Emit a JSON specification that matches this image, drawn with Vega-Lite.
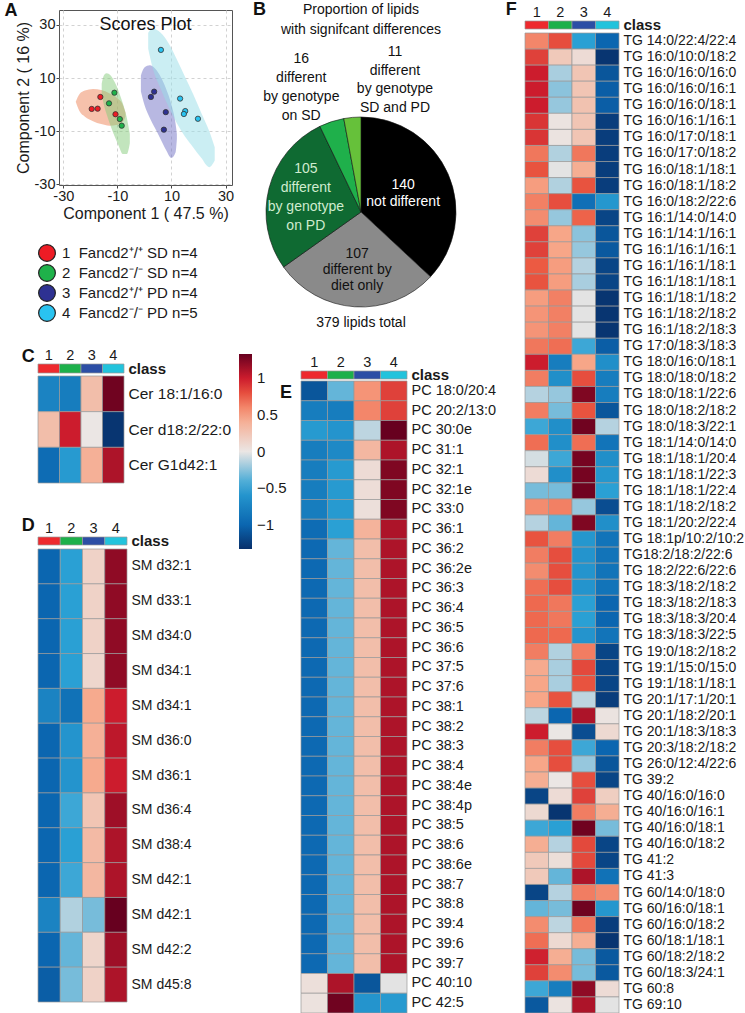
{
"$schema":"https://vega.github.io/schema/vega-lite/v6.json",
"background":"white",
"padding":{"left":3,"top":0,"right":0,"bottom":0},
"config":{
 "font":"Liberation Sans",
 "view":{"stroke":null},
 "axis":{"labelColor":"#1a1a1a","titleColor":"#1a1a1a","labelFont":"Liberation Sans","titleFont":"Liberation Sans"},
 "legend":{"labelFont":"Liberation Sans","labelColor":"#1a1a1a"},
 "title":{"font":"Liberation Sans","color":"#111111","fontWeight":"bold"},
 "text":{"font":"Liberation Sans"}
},
"datasets":{"cls":[{"g":1,"k":"class"},{"g":2,"k":"class"},{"g":3,"k":"class"},{"g":4,"k":"class"}],"none":[]},
"resolve":{"scale":{"color":"independent","fill":"independent"}},
"spacing":8,
"hconcat":[
{"spacing":3,"resolve":{"scale":{"color":"independent","fill":"independent"}},"hconcat":[
 {"spacing":0,"resolve":{"scale":{"color":"independent","fill":"independent"}},"vconcat":[
  {"width":1,"height":1,"data":{"name":"none"},"mark":"point"},
  {"spacing":33,"resolve":{"scale":{"color":"independent","fill":"independent"}},"vconcat":[
   {"spacing":22,"resolve":{"scale":{"color":"independent","fill":"independent"}},"vconcat":[
    {"spacing":0,"resolve":{"scale":{"color":"independent","fill":"independent"}},"hconcat":[
     {"width":1,"height":1,"data":{"name":"none"},"mark":"point"},
     {"title":{"text":"A","anchor":"start","frame":"bounds","fontSize":18,"dx":-10,"dy":14},
      "resolve":{"scale":{"color":"independent","fill":"independent"}},
      "vconcat":[
       {"width":173,"height":175,
        "title":{"text":"Scores Plot","fontSize":18,"fontWeight":"normal","dy":28},
        "view":{"stroke":"#555555","strokeWidth":1},
        "resolve":{"scale":{"color":"independent","fill":"independent"}},
        "layer":[
         {"data":{"values":[
           {"e":1,"x":-25.4,"lo":1.1,"hi":1.1},{"e":1,"x":-24,"lo":-2.5,"hi":4.0},{"e":1,"x":-22,"lo":-4.5,"hi":5.3},{"e":1,"x":-19,"lo":-6.2,"hi":5.9},{"e":1,"x":-16,"lo":-7.3,"hi":5.5},{"e":1,"x":-13,"lo":-7.9,"hi":4.3},{"e":1,"x":-10,"lo":-7.5,"hi":2.4},{"e":1,"x":-8,"lo":-6.4,"hi":0},{"e":1,"x":-7,"lo":-4.5,"hi":-3.0},
           {"e":2,"x":-15.8,"lo":4,"hi":8},{"e":2,"x":-15,"lo":0,"hi":11},{"e":2,"x":-14,"lo":-3.5,"hi":11.8},{"e":2,"x":-12.5,"lo":-8,"hi":11},{"e":2,"x":-11,"lo":-12,"hi":8.5},{"e":2,"x":-9.5,"lo":-15.5,"hi":5},{"e":2,"x":-8,"lo":-18.5,"hi":0.5},{"e":2,"x":-6.5,"lo":-18.5,"hi":-5},{"e":2,"x":-5.4,"lo":-14.5,"hi":-11},
           {"e":3,"x":-1.3,"lo":5,"hi":11},{"e":3,"x":0,"lo":0,"hi":14},{"e":3,"x":2,"lo":-5,"hi":14.8},{"e":3,"x":4,"lo":-9,"hi":13.5},{"e":3,"x":6,"lo":-13,"hi":10.5},{"e":3,"x":8,"lo":-17,"hi":6},{"e":3,"x":10,"lo":-20,"hi":0},{"e":3,"x":11.5,"lo":-18,"hi":-7},{"e":3,"x":12,"lo":-13,"hi":-11},
           {"e":4,"x":1.4,"lo":21,"hi":27},{"e":4,"x":3,"lo":14,"hi":28.6},{"e":4,"x":6,"lo":6,"hi":27},{"e":4,"x":9,"lo":-1,"hi":23},{"e":4,"x":12,"lo":-7,"hi":17},{"e":4,"x":15,"lo":-12,"hi":10.5},{"e":4,"x":18,"lo":-16,"hi":4},{"e":4,"x":21,"lo":-20,"hi":-3},{"e":4,"x":24,"lo":-23.5,"hi":-10},{"e":4,"x":26,"lo":-21,"hi":-16}
          ]},
          "mark":{"type":"area","interpolate":"monotone","opacity":0.5},
          "encoding":{
           "x":{"field":"x","type":"quantitative","scale":{"domain":[-31.6,32.4],"nice":false,"zero":false},
                "axis":{"title":"Component 1 ( 47.5 %)","values":[-30,-20,-10,0,10,20,30],"labelExpr":"replace(datum.label,'\u2212','-')","grid":true,"gridDash":[3,3],"gridColor":"#d2d2d2","domain":false,"tickSize":3,"tickColor":"#444444","labelFontSize":14.5,"titleFontSize":16,"titleFontWeight":"normal","labelPadding":1,"titlePadding":3,"labelFlush":false}},
           "y":{"field":"hi","type":"quantitative","scale":{"domain":[-30.2,35.6],"nice":false,"zero":false},
                "axis":{"title":"Component 2 ( 16 %)","values":[-30,-20,-10,0,10,20,30],"labelExpr":"replace(datum.label,'\u2212','-')","grid":true,"gridDash":[3,3],"gridColor":"#d2d2d2","domain":false,"tickSize":3,"tickColor":"#444444","labelFontSize":14.5,"titleFontSize":16,"titleFontWeight":"normal","labelPadding":1,"titlePadding":3,"labelFlush":false}},
           "y2":{"field":"lo"},
           "fill":{"field":"e","type":"nominal","scale":{"range":["#ed8357","#85cb7b","#7171c5","#97dde7"]},"legend":null}
          }},
         {"data":{"values":[
           {"x":-19.5,"y":-1.6,"grp":"1\u00a0\u00a0Fancd2\u207a/\u207a SD n=4"},{"x":-17.3,"y":-1.5,"grp":"1\u00a0\u00a0Fancd2\u207a/\u207a SD n=4"},{"x":-16.3,"y":2.9,"grp":"1\u00a0\u00a0Fancd2\u207a/\u207a SD n=4"},{"x":-10.7,"y":-3.6,"grp":"1\u00a0\u00a0Fancd2\u207a/\u207a SD n=4"},
           {"x":-11.1,"y":4.5,"grp":"2\u00a0\u00a0Fancd2\u207b/\u207b SD n=4"},{"x":-13.1,"y":0.5,"grp":"2\u00a0\u00a0Fancd2\u207b/\u207b SD n=4"},{"x":-9.1,"y":-5.4,"grp":"2\u00a0\u00a0Fancd2\u207b/\u207b SD n=4"},{"x":-8.4,"y":-7.9,"grp":"2\u00a0\u00a0Fancd2\u207b/\u207b SD n=4"},
           {"x":2.4,"y":2.9,"grp":"3\u00a0\u00a0Fancd2\u207a/\u207a PD n=4"},{"x":3.6,"y":4.9,"grp":"3\u00a0\u00a0Fancd2\u207a/\u207a PD n=4"},{"x":7.9,"y":-2.8,"grp":"3\u00a0\u00a0Fancd2\u207a/\u207a PD n=4"},{"x":7.2,"y":-9.4,"grp":"3\u00a0\u00a0Fancd2\u207a/\u207a PD n=4"},
           {"x":6.1,"y":20.6,"grp":"4\u00a0\u00a0Fancd2\u207b/\u207b PD n=5"},{"x":13.2,"y":2.3,"grp":"4\u00a0\u00a0Fancd2\u207b/\u207b PD n=5"},{"x":15.1,"y":-2.4,"grp":"4\u00a0\u00a0Fancd2\u207b/\u207b PD n=5"},{"x":14.6,"y":-3.5,"grp":"4\u00a0\u00a0Fancd2\u207b/\u207b PD n=5"},{"x":19.8,"y":-5.3,"grp":"4\u00a0\u00a0Fancd2\u207b/\u207b PD n=5"}
          ]},
          "mark":{"type":"point","filled":true,"size":28,"stroke":"#333333","strokeWidth":0.8,"opacity":1},
          "encoding":{
           "x":{"field":"x","type":"quantitative","title":"Component 1 ( 47.5 %)"},
           "y":{"field":"y","type":"quantitative","title":"Component 2 ( 16 %)"},
           "color":{"field":"grp","type":"nominal","scale":{"range":["#ee1c25","#1fb24a","#2e3192","#29c3f0"]},
            "legend":{"orient":"none","legendX":-21,"legendY":234,"direction":"vertical","title":null,"symbolType":"circle","symbolSize":280,"symbolStrokeColor":"#222222","symbolStrokeWidth":1.2,"symbolOpacity":1,"labelFontSize":15,"rowPadding":-5,"labelOffset":6,"padding":0}}
          }}
        ]}
      ]}
    ]},
    {"spacing":17,"resolve":{"scale":{"color":"independent","fill":"independent"}},"hconcat":[
     {"width":1,"height":1,"data":{"name":"none"},"mark":"point"},
     {"title":{"text":"C","anchor":"start","frame":"bounds","fontSize":18,"dx":-16,"dy":23},
      "spacing":3,"bounds":"flush","resolve":{"scale":{"color":"independent","fill":"independent"}},
      "vconcat":[
       {"width":86,"height":9,"data":{"name":"cls"},
        "mark":{"type":"rect","stroke":"#999999","strokeWidth":0.7},
        "encoding":{
         "x":{"field":"g","type":"ordinal","axis":{"orient":"top","labelAngle":0,"labelFontSize":14.5,"ticks":false,"domain":false,"labelPadding":2,"title":null}},
         "y":{"field":"k","type":"nominal","axis":{"orient":"right","labelFontSize":15,"labelFontWeight":"bold","ticks":false,"domain":false,"labelPadding":4,"title":null}},
         "fill":{"field":"g","type":"ordinal","scale":{"domain":[1,2,3,4],"range":["#ee2a2e","#1db04b","#2c4ea5","#22c3dc"]},"legend":null}}},
       {"width":86,"height":107,
        "data":{"values":[
         {"l":"Cer 18:1/16:0","g":1,"v":-0.75},{"l":"Cer 18:1/16:0","g":2,"v":-0.8},{"l":"Cer 18:1/16:0","g":3,"v":0.3},{"l":"Cer 18:1/16:0","g":4,"v":1.3},
         {"l":"Cer d18:2/22:0","g":1,"v":0.3},{"l":"Cer d18:2/22:0","g":2,"v":1.0},{"l":"Cer d18:2/22:0","g":3,"v":0.0},{"l":"Cer d18:2/22:0","g":4,"v":-1.3},
         {"l":"Cer G1d42:1","g":1,"v":-0.95},{"l":"Cer G1d42:1","g":2,"v":-0.55},{"l":"Cer G1d42:1","g":3,"v":0.4},{"l":"Cer G1d42:1","g":4,"v":1.1}
        ]},
        "mark":{"type":"rect","stroke":"#999999","strokeWidth":0.7},
        "encoding":{
         "x":{"field":"g","type":"ordinal","axis":null},
         "y":{"field":"l","type":"nominal","sort":null,"axis":{"orient":"right","labelFontSize":15.5,"ticks":false,"domain":false,"labelPadding":4,"title":null,"labelOverlap":false}},
         "color":{"field":"v","type":"quantitative","scale":{"domain":[-1.33,-1,-0.5,0,0.5,0.75,1,1.33],"range":["#08306b","#0b66b0","#2aa0d4","#ebe6e4","#f7a384","#ec5a42","#cc1c2d","#67001f"],"interpolate":"rgb","clamp":true},"legend":null}}}
      ]}
    ]}
   ]},
   {"spacing":17,"resolve":{"scale":{"color":"independent","fill":"independent"}},"hconcat":[
    {"width":1,"height":1,"data":{"name":"none"},"mark":"point"},
    {"title":{"text":"D","anchor":"start","frame":"bounds","fontSize":18,"dx":-16,"dy":19},
     "spacing":4,"bounds":"flush","resolve":{"scale":{"color":"independent","fill":"independent"}},
     "vconcat":[
      {"width":89,"height":8,"data":{"name":"cls"},
       "mark":{"type":"rect","stroke":"#999999","strokeWidth":0.7},
       "encoding":{
        "x":{"field":"g","type":"ordinal","axis":{"orient":"top","labelAngle":0,"labelFontSize":14.5,"ticks":false,"domain":false,"labelPadding":2,"title":null}},
        "y":{"field":"k","type":"nominal","axis":{"orient":"right","labelFontSize":15,"labelFontWeight":"bold","ticks":false,"domain":false,"labelPadding":4,"title":null}},
        "fill":{"field":"g","type":"ordinal","scale":{"domain":[1,2,3,4],"range":["#ee2a2e","#1db04b","#2c4ea5","#22c3dc"]},"legend":null}}},
      {"width":89,"height":453,
       "data":{"values":[
        {"l":"SM d32:1","g":1,"v":-1.0},{"l":"SM d32:1","g":2,"v":-0.5},{"l":"SM d32:1","g":3,"v":0.15},{"l":"SM d32:1","g":4,"v":1.2},
        {"l":"SM d33:1","g":1,"v":-1.0},{"l":"SM d33:1","g":2,"v":-0.5},{"l":"SM d33:1","g":3,"v":0.15},{"l":"SM d33:1","g":4,"v":1.2},
        {"l":"SM d34:0","g":1,"v":-1.0},{"l":"SM d34:0","g":2,"v":-0.5},{"l":"SM d34:0","g":3,"v":0.15},{"l":"SM d34:0","g":4,"v":1.2},
        {"l":"SM d34:1","g":1,"v":-1.0},{"l":"SM d34:1","g":2,"v":-0.5},{"l":"SM d34:1","g":3,"v":0.12},{"l":"SM d34:1","g":4,"v":1.2},
        {"l":"SM d34:1 ","g":1,"v":-0.75},{"l":"SM d34:1 ","g":2,"v":-0.9},{"l":"SM d34:1 ","g":3,"v":0.45},{"l":"SM d34:1 ","g":4,"v":1.0},
        {"l":"SM d36:0","g":1,"v":-1.0},{"l":"SM d36:0","g":2,"v":-0.6},{"l":"SM d36:0","g":3,"v":0.4},{"l":"SM d36:0","g":4,"v":1.05},
        {"l":"SM d36:1","g":1,"v":-1.0},{"l":"SM d36:1","g":2,"v":-0.6},{"l":"SM d36:1","g":3,"v":0.45},{"l":"SM d36:1","g":4,"v":1.0},
        {"l":"SM d36:4","g":1,"v":-1.0},{"l":"SM d36:4","g":2,"v":-0.45},{"l":"SM d36:4","g":3,"v":0.25},{"l":"SM d36:4","g":4,"v":1.15},
        {"l":"SM d38:4","g":1,"v":-1.0},{"l":"SM d38:4","g":2,"v":-0.5},{"l":"SM d38:4","g":3,"v":0.33},{"l":"SM d38:4","g":4,"v":1.1},
        {"l":"SM d42:1","g":1,"v":-1.0},{"l":"SM d42:1","g":2,"v":-0.45},{"l":"SM d42:1","g":3,"v":0.35},{"l":"SM d42:1","g":4,"v":1.1},
        {"l":"SM d42:1 ","g":1,"v":-0.75},{"l":"SM d42:1 ","g":2,"v":-0.15},{"l":"SM d42:1 ","g":3,"v":-0.3},{"l":"SM d42:1 ","g":4,"v":1.33},
        {"l":"SM d42:2","g":1,"v":-1.0},{"l":"SM d42:2","g":2,"v":-0.35},{"l":"SM d42:2","g":3,"v":0.13},{"l":"SM d42:2","g":4,"v":1.15},
        {"l":"SM d45:8","g":1,"v":-1.05},{"l":"SM d45:8","g":2,"v":-0.3},{"l":"SM d45:8","g":3,"v":0.15},{"l":"SM d45:8","g":4,"v":1.1}
       ]},
       "mark":{"type":"rect","stroke":"#999999","strokeWidth":0.7},
       "encoding":{
        "x":{"field":"g","type":"ordinal","axis":null},
        "y":{"field":"l","type":"nominal","sort":null,"axis":{"orient":"right","labelFontSize":14,"ticks":false,"domain":false,"labelPadding":4,"title":null,"labelOverlap":false}},
        "color":{"field":"v","type":"quantitative","scale":{"domain":[-1.33,-1,-0.5,0,0.5,0.75,1,1.33],"range":["#08306b","#0b66b0","#2aa0d4","#ebe6e4","#f7a384","#ec5a42","#cc1c2d","#67001f"],"interpolate":"rgb","clamp":true},"legend":null}}}
     ]}
   ]}
  ]}
 ]},
 {"spacing":0,"resolve":{"scale":{"color":"independent","fill":"independent"}},"vconcat":[
  {"width":1,"height":1,"data":{"name":"none"},"mark":"point"},
  {"spacing":23,"resolve":{"scale":{"color":"independent","fill":"independent"}},"vconcat":[
   {"spacing":0,"resolve":{"scale":{"color":"independent","fill":"independent"}},"hconcat":[
    {"width":1,"height":1,"data":{"name":"none"},"mark":"point"},
    {"title":{"text":"B","anchor":"start","frame":"bounds","fontSize":18,"dx":14,"dy":20},
     "resolve":{"scale":{"color":"independent","fill":"independent"}},
     "vconcat":[
      {"title":{"text":"379 lipids total","orient":"bottom","anchor":"middle","fontSize":14,"fontWeight":"normal","offset":8},
       "resolve":{"scale":{"color":"independent","fill":"independent"}},
       "vconcat":[
        {"width":244,"height":190,
         "title":{"text":["Proportion of lipids","with signifcant differences"],"fontSize":14,"fontWeight":"normal","lineHeight":20,"offset":8},
         "data":{"values":[
          {"cat":"not different","n":140,"label":"140\nnot different"},
          {"cat":"diet only","n":107,"label":"107\ndifferent by\ndiet only"},
          {"cat":"genotype PD","n":105,"label":"105\ndifferent\nby genotype\non PD"},
          {"cat":"genotype SD","n":16,"label":"16\ndifferent\nby genotype\non SD"},
          {"cat":"genotype SD and PD","n":11,"label":"11\ndifferent\nby genotype\nSD and PD"}
         ]},
         "encoding":{"theta":{"field":"n","type":"quantitative","stack":true,"scale":{"domain":[0,379]}},"order":{"field":"n","sort":"descending"}},
         "layer":[
          {"mark":{"type":"arc","stroke":"#111111","strokeWidth":0.6},
           "encoding":{"color":{"field":"cat","type":"nominal","scale":{"domain":["not different","diet only","genotype PD","genotype SD","genotype SD and PD"],"range":["#000000","#8a8a8a","#0f6a32","#1fb04b","#66c13a"]},"legend":null}}},
          {"mark":{"type":"text","radius":46,"dy":-8.5,"fill":"#ffffff","fontSize":14,"lineBreak":"\n","lineHeight":17},
           "encoding":{"text":{"condition":{"test":"datum.n==140","field":"label","type":"nominal"},"value":""}}},
          {"mark":{"type":"text","radius":58,"dy":-16,"fill":"#111111","fontSize":14,"lineBreak":"\n","lineHeight":16},
           "encoding":{"text":{"condition":{"test":"datum.n==107","field":"label","type":"nominal"},"value":""}}},
          {"mark":{"type":"text","radius":57,"dy":-28.5,"fill":"#cfeccf","fontSize":14,"lineBreak":"\n","lineHeight":19},
           "encoding":{"text":{"condition":{"test":"datum.n==105","field":"label","type":"nominal"},"value":""}}},
          {"transform":[{"stack":"n","groupby":[],"sort":[{"field":"n","order":"descending"}],"as":["a0","a1"]},{"filter":"datum.n==16"}],
           "mark":{"type":"text","radius":138,"dy":-28.5,"fill":"#111111","fontSize":14,"lineBreak":"\n","lineHeight":19},
           "encoding":{"theta":{"field":"a0","type":"quantitative","stack":null,"scale":{"domain":[0,379]}},"text":{"field":"label","type":"nominal"}}},
          {"transform":[{"stack":"n","groupby":[],"sort":[{"field":"n","order":"descending"}],"as":["a0","a1"]},{"filter":"datum.n==11"}],
           "mark":{"type":"text","radius":131,"dx":34,"dy":-29,"fill":"#111111","fontSize":14,"lineBreak":"\n","lineHeight":18.5},
           "encoding":{"theta":{"field":"a1","type":"quantitative","stack":null,"scale":{"domain":[0,379]}},"text":{"field":"label","type":"nominal"}}}
         ]}
       ]}
     ]}
   ]},
   {"spacing":0,"resolve":{"scale":{"color":"independent","fill":"independent"}},"hconcat":[
    {"width":1,"height":1,"data":{"name":"none"},"mark":"point"},
    {"title":{"text":"E","anchor":"start","frame":"bounds","fontSize":18,"dx":41,"dy":52},
     "spacing":2,"bounds":"flush","resolve":{"scale":{"color":"independent","fill":"independent"}},
     "vconcat":[
      {"width":106,"height":8,"data":{"name":"cls"},
       "mark":{"type":"rect","stroke":"#999999","strokeWidth":0.7},
       "encoding":{
        "x":{"field":"g","type":"ordinal","axis":{"orient":"top","labelAngle":0,"labelFontSize":14.5,"ticks":false,"domain":false,"labelPadding":2,"title":null}},
        "y":{"field":"k","type":"nominal","axis":{"orient":"right","labelFontSize":15,"labelFontWeight":"bold","ticks":false,"domain":false,"labelPadding":4,"title":null}},
        "fill":{"field":"g","type":"ordinal","scale":{"domain":[1,2,3,4],"range":["#ee2a2e","#1db04b","#2c4ea5","#22c3dc"]},"legend":null}}},
      {"width":106,"height":632,
       "data":{"values":[
        {"l":"PC 18:0/20:4","g":1,"v":-1.1},{"l":"PC 18:0/20:4","g":2,"v":-0.35},{"l":"PC 18:0/20:4","g":3,"v":0.55},{"l":"PC 18:0/20:4","g":4,"v":0.85},
        {"l":"PC 20:2/13:0","g":1,"v":-0.8},{"l":"PC 20:2/13:0","g":2,"v":-0.8},{"l":"PC 20:2/13:0","g":3,"v":0.6},{"l":"PC 20:2/13:0","g":4,"v":0.85},
        {"l":"PC 30:0e","g":1,"v":-0.55},{"l":"PC 30:0e","g":2,"v":-0.6},{"l":"PC 30:0e","g":3,"v":-0.12},{"l":"PC 30:0e","g":4,"v":1.33},
        {"l":"PC 31:1","g":1,"v":-0.8},{"l":"PC 31:1","g":2,"v":-0.7},{"l":"PC 31:1","g":3,"v":0.35},{"l":"PC 31:1","g":4,"v":1.1},
        {"l":"PC 32:1","g":1,"v":-0.8},{"l":"PC 32:1","g":2,"v":-0.55},{"l":"PC 32:1","g":3,"v":0.08},{"l":"PC 32:1","g":4,"v":1.25},
        {"l":"PC 32:1e","g":1,"v":-0.8},{"l":"PC 32:1e","g":2,"v":-0.55},{"l":"PC 32:1e","g":3,"v":0.07},{"l":"PC 32:1e","g":4,"v":1.25},
        {"l":"PC 33:0","g":1,"v":-0.8},{"l":"PC 33:0","g":2,"v":-0.55},{"l":"PC 33:0","g":3,"v":0.05},{"l":"PC 33:0","g":4,"v":1.25},
        {"l":"PC 36:1","g":1,"v":-0.95},{"l":"PC 36:1","g":2,"v":-0.5},{"l":"PC 36:1","g":3,"v":0.38},{"l":"PC 36:1","g":4,"v":1.1},
        {"l":"PC 36:2","g":1,"v":-0.97},{"l":"PC 36:2","g":2,"v":-0.35},{"l":"PC 36:2","g":3,"v":0.3},{"l":"PC 36:2","g":4,"v":1.1},
        {"l":"PC 36:2e","g":1,"v":-0.97},{"l":"PC 36:2e","g":2,"v":-0.35},{"l":"PC 36:2e","g":3,"v":0.3},{"l":"PC 36:2e","g":4,"v":1.1},
        {"l":"PC 36:3","g":1,"v":-0.97},{"l":"PC 36:3","g":2,"v":-0.35},{"l":"PC 36:3","g":3,"v":0.3},{"l":"PC 36:3","g":4,"v":1.1},
        {"l":"PC 36:4","g":1,"v":-0.97},{"l":"PC 36:4","g":2,"v":-0.35},{"l":"PC 36:4","g":3,"v":0.3},{"l":"PC 36:4","g":4,"v":1.1},
        {"l":"PC 36:5","g":1,"v":-0.97},{"l":"PC 36:5","g":2,"v":-0.35},{"l":"PC 36:5","g":3,"v":0.3},{"l":"PC 36:5","g":4,"v":1.1},
        {"l":"PC 36:6","g":1,"v":-0.97},{"l":"PC 36:6","g":2,"v":-0.35},{"l":"PC 36:6","g":3,"v":0.3},{"l":"PC 36:6","g":4,"v":1.1},
        {"l":"PC 37:5","g":1,"v":-0.97},{"l":"PC 37:5","g":2,"v":-0.35},{"l":"PC 37:5","g":3,"v":0.3},{"l":"PC 37:5","g":4,"v":1.1},
        {"l":"PC 37:6","g":1,"v":-0.97},{"l":"PC 37:6","g":2,"v":-0.35},{"l":"PC 37:6","g":3,"v":0.3},{"l":"PC 37:6","g":4,"v":1.1},
        {"l":"PC 38:1","g":1,"v":-0.97},{"l":"PC 38:1","g":2,"v":-0.35},{"l":"PC 38:1","g":3,"v":0.3},{"l":"PC 38:1","g":4,"v":1.1},
        {"l":"PC 38:2","g":1,"v":-0.97},{"l":"PC 38:2","g":2,"v":-0.35},{"l":"PC 38:2","g":3,"v":0.3},{"l":"PC 38:2","g":4,"v":1.1},
        {"l":"PC 38:3","g":1,"v":-0.97},{"l":"PC 38:3","g":2,"v":-0.35},{"l":"PC 38:3","g":3,"v":0.3},{"l":"PC 38:3","g":4,"v":1.1},
        {"l":"PC 38:4","g":1,"v":-0.97},{"l":"PC 38:4","g":2,"v":-0.35},{"l":"PC 38:4","g":3,"v":0.3},{"l":"PC 38:4","g":4,"v":1.1},
        {"l":"PC 38:4e","g":1,"v":-0.97},{"l":"PC 38:4e","g":2,"v":-0.35},{"l":"PC 38:4e","g":3,"v":0.3},{"l":"PC 38:4e","g":4,"v":1.1},
        {"l":"PC 38:4p","g":1,"v":-0.97},{"l":"PC 38:4p","g":2,"v":-0.35},{"l":"PC 38:4p","g":3,"v":0.3},{"l":"PC 38:4p","g":4,"v":1.1},
        {"l":"PC 38:5","g":1,"v":-0.97},{"l":"PC 38:5","g":2,"v":-0.35},{"l":"PC 38:5","g":3,"v":0.3},{"l":"PC 38:5","g":4,"v":1.1},
        {"l":"PC 38:6","g":1,"v":-0.97},{"l":"PC 38:6","g":2,"v":-0.35},{"l":"PC 38:6","g":3,"v":0.3},{"l":"PC 38:6","g":4,"v":1.1},
        {"l":"PC 38:6e","g":1,"v":-0.97},{"l":"PC 38:6e","g":2,"v":-0.35},{"l":"PC 38:6e","g":3,"v":0.3},{"l":"PC 38:6e","g":4,"v":1.1},
        {"l":"PC 38:7","g":1,"v":-0.97},{"l":"PC 38:7","g":2,"v":-0.35},{"l":"PC 38:7","g":3,"v":0.3},{"l":"PC 38:7","g":4,"v":1.1},
        {"l":"PC 38:8","g":1,"v":-0.97},{"l":"PC 38:8","g":2,"v":-0.35},{"l":"PC 38:8","g":3,"v":0.3},{"l":"PC 38:8","g":4,"v":1.1},
        {"l":"PC 39:4","g":1,"v":-0.97},{"l":"PC 39:4","g":2,"v":-0.35},{"l":"PC 39:4","g":3,"v":0.3},{"l":"PC 39:4","g":4,"v":1.1},
        {"l":"PC 39:6","g":1,"v":-0.97},{"l":"PC 39:6","g":2,"v":-0.35},{"l":"PC 39:6","g":3,"v":0.3},{"l":"PC 39:6","g":4,"v":1.1},
        {"l":"PC 39:7","g":1,"v":-0.97},{"l":"PC 39:7","g":2,"v":-0.35},{"l":"PC 39:7","g":3,"v":0.3},{"l":"PC 39:7","g":4,"v":1.1},
        {"l":"PC 40:10","g":1,"v":0.05},{"l":"PC 40:10","g":2,"v":1.1},{"l":"PC 40:10","g":3,"v":-1.1},{"l":"PC 40:10","g":4,"v":-0.02},
        {"l":"PC 42:5","g":1,"v":0.03},{"l":"PC 42:5","g":2,"v":1.3},{"l":"PC 42:5","g":3,"v":-0.6},{"l":"PC 42:5","g":4,"v":-0.55}
       ]},
       "mark":{"type":"rect","stroke":"#999999","strokeWidth":0.7},
       "encoding":{
        "x":{"field":"g","type":"ordinal","axis":null},
        "y":{"field":"l","type":"nominal","sort":null,"axis":{"orient":"right","labelFontSize":14.5,"ticks":false,"domain":false,"labelPadding":4,"title":null,"labelOverlap":false}},
        "color":{"field":"v","type":"quantitative","scale":{"domain":[-1.33,-1,-0.5,0,0.5,0.75,1,1.33],"range":["#08306b","#0b66b0","#2aa0d4","#ebe6e4","#f7a384","#ec5a42","#cc1c2d","#67001f"],"interpolate":"rgb","clamp":true},
         "legend":{"orient":"none","legendX":-62,"legendY":-27,"direction":"vertical","gradientLength":195,"gradientThickness":13,"values":[-1,-0.5,0,0.5,1],"format":"~g","labelFontSize":15,"title":null,"gradientStrokeWidth":0,"labelOffset":5,"padding":0}}}}
     ]}
   ]}
  ]}
 ]}
]},
{"spacing":0,"resolve":{"scale":{"color":"independent","fill":"independent"}},"vconcat":[
 {"width":1,"height":1,"data":{"name":"none"},"mark":"point"},
 {"spacing":0,"resolve":{"scale":{"color":"independent","fill":"independent"}},"hconcat":[
  {"width":1,"height":1,"data":{"name":"none"},"mark":"point"},
  {"title":{"text":"F","anchor":"start","frame":"bounds","fontSize":18,"dx":-19,"dy":19},
   "spacing":4,"bounds":"flush","resolve":{"scale":{"color":"independent","fill":"independent"}},
   "vconcat":[
    {"width":94,"height":8,"data":{"name":"cls"},
     "mark":{"type":"rect","stroke":"#999999","strokeWidth":0.7},
     "encoding":{
      "x":{"field":"g","type":"ordinal","axis":{"orient":"top","labelAngle":0,"labelFontSize":14.5,"ticks":false,"domain":false,"labelPadding":2,"title":null}},
      "y":{"field":"k","type":"nominal","axis":{"orient":"right","labelFontSize":15,"labelFontWeight":"bold","ticks":false,"domain":false,"labelPadding":4,"title":null}},
      "fill":{"field":"g","type":"ordinal","scale":{"domain":[1,2,3,4],"range":["#ee2a2e","#1db04b","#2c4ea5","#22c3dc"]},"legend":null}}},
    {"width":94,"height":980,
     "data":{"values":[
      {"l":"TG 14:0/22:4/22:4","g":1,"v":0.6},{"l":"TG 14:0/22:4/22:4","g":2,"v":0.8},{"l":"TG 14:0/22:4/22:4","g":3,"v":-0.5},{"l":"TG 14:0/22:4/22:4","g":4,"v":-1.0},
      {"l":"TG 16:0/10:0/18:2","g":1,"v":0.85},{"l":"TG 16:0/10:0/18:2","g":2,"v":0.22},{"l":"TG 16:0/10:0/18:2","g":3,"v":0.08},{"l":"TG 16:0/10:0/18:2","g":4,"v":-1.3},
      {"l":"TG 16:0/16:0/16:0","g":1,"v":1.0},{"l":"TG 16:0/16:0/16:0","g":2,"v":-0.17},{"l":"TG 16:0/16:0/16:0","g":3,"v":0.25},{"l":"TG 16:0/16:0/16:0","g":4,"v":-1.1},
      {"l":"TG 16:0/16:0/16:1","g":1,"v":1.0},{"l":"TG 16:0/16:0/16:1","g":2,"v":-0.25},{"l":"TG 16:0/16:0/16:1","g":3,"v":0.25},{"l":"TG 16:0/16:0/16:1","g":4,"v":-1.05},
      {"l":"TG 16:0/16:0/18:1","g":1,"v":1.0},{"l":"TG 16:0/16:0/18:1","g":2,"v":-0.22},{"l":"TG 16:0/16:0/18:1","g":3,"v":0.27},{"l":"TG 16:0/16:0/18:1","g":4,"v":-1.05},
      {"l":"TG 16:0/16:1/16:1","g":1,"v":0.9},{"l":"TG 16:0/16:1/16:1","g":2,"v":0.02},{"l":"TG 16:0/16:1/16:1","g":3,"v":0.25},{"l":"TG 16:0/16:1/16:1","g":4,"v":-1.25},
      {"l":"TG 16:0/17:0/18:1","g":1,"v":0.9},{"l":"TG 16:0/17:0/18:1","g":2,"v":0.02},{"l":"TG 16:0/17:0/18:1","g":3,"v":0.25},{"l":"TG 16:0/17:0/18:1","g":4,"v":-1.25},
      {"l":"TG 16:0/17:0/18:2","g":1,"v":0.65},{"l":"TG 16:0/17:0/18:2","g":2,"v":-0.15},{"l":"TG 16:0/17:0/18:2","g":3,"v":0.65},{"l":"TG 16:0/17:0/18:2","g":4,"v":-1.25},
      {"l":"TG 16:0/18:1/18:1","g":1,"v":0.78},{"l":"TG 16:0/18:1/18:1","g":2,"v":-0.02},{"l":"TG 16:0/18:1/18:1","g":3,"v":0.42},{"l":"TG 16:0/18:1/18:1","g":4,"v":-1.25},
      {"l":"TG 16:0/18:1/18:2","g":1,"v":0.52},{"l":"TG 16:0/18:1/18:2","g":2,"v":-0.15},{"l":"TG 16:0/18:1/18:2","g":3,"v":0.78},{"l":"TG 16:0/18:1/18:2","g":4,"v":-1.25},
      {"l":"TG 16:0/18:2/22:6","g":1,"v":0.62},{"l":"TG 16:0/18:2/22:6","g":2,"v":0.8},{"l":"TG 16:0/18:2/22:6","g":3,"v":-0.92},{"l":"TG 16:0/18:2/22:6","g":4,"v":-0.58},
      {"l":"TG 16:1/14:0/14:0","g":1,"v":0.58},{"l":"TG 16:1/14:0/14:0","g":2,"v":-0.22},{"l":"TG 16:1/14:0/14:0","g":3,"v":0.72},{"l":"TG 16:1/14:0/14:0","g":4,"v":-1.2},
      {"l":"TG 16:1/14:1/16:1","g":1,"v":0.85},{"l":"TG 16:1/14:1/16:1","g":2,"v":0.48},{"l":"TG 16:1/14:1/16:1","g":3,"v":-0.25},{"l":"TG 16:1/14:1/16:1","g":4,"v":-1.1},
      {"l":"TG 16:1/16:1/16:1","g":1,"v":0.85},{"l":"TG 16:1/16:1/16:1","g":2,"v":0.48},{"l":"TG 16:1/16:1/16:1","g":3,"v":-0.22},{"l":"TG 16:1/16:1/16:1","g":4,"v":-1.08},
      {"l":"TG 16:1/16:1/18:1","g":1,"v":0.75},{"l":"TG 16:1/16:1/18:1","g":2,"v":0.52},{"l":"TG 16:1/16:1/18:1","g":3,"v":-0.14},{"l":"TG 16:1/16:1/18:1","g":4,"v":-1.2},
      {"l":"TG 16:1/18:1/18:1","g":1,"v":0.78},{"l":"TG 16:1/18:1/18:1","g":2,"v":0.52},{"l":"TG 16:1/18:1/18:1","g":3,"v":-0.17},{"l":"TG 16:1/18:1/18:1","g":4,"v":-1.2},
      {"l":"TG 16:1/18:1/18:2","g":1,"v":0.52},{"l":"TG 16:1/18:1/18:2","g":2,"v":0.62},{"l":"TG 16:1/18:1/18:2","g":3,"v":-0.02},{"l":"TG 16:1/18:1/18:2","g":4,"v":-1.3},
      {"l":"TG 16:1/18:2/18:2","g":1,"v":0.55},{"l":"TG 16:1/18:2/18:2","g":2,"v":0.62},{"l":"TG 16:1/18:2/18:2","g":3,"v":-0.02},{"l":"TG 16:1/18:2/18:2","g":4,"v":-1.3},
      {"l":"TG 16:1/18:2/18:3","g":1,"v":0.55},{"l":"TG 16:1/18:2/18:3","g":2,"v":0.62},{"l":"TG 16:1/18:2/18:3","g":3,"v":-0.02},{"l":"TG 16:1/18:2/18:3","g":4,"v":-1.3},
      {"l":"TG 17:0/18:3/18:3","g":1,"v":0.65},{"l":"TG 17:0/18:3/18:3","g":2,"v":0.68},{"l":"TG 17:0/18:3/18:3","g":3,"v":-0.45},{"l":"TG 17:0/18:3/18:3","g":4,"v":-1.05},
      {"l":"TG 18:0/16:0/18:1","g":1,"v":1.0},{"l":"TG 18:0/16:0/18:1","g":2,"v":-0.8},{"l":"TG 18:0/16:0/18:1","g":3,"v":0.48},{"l":"TG 18:0/16:0/18:1","g":4,"v":-0.65},
      {"l":"TG 18:0/18:0/18:2","g":1,"v":0.63},{"l":"TG 18:0/18:0/18:2","g":2,"v":-0.65},{"l":"TG 18:0/18:0/18:2","g":3,"v":0.8},{"l":"TG 18:0/18:0/18:2","g":4,"v":-0.8},
      {"l":"TG 18:0/18:1/22:6","g":1,"v":-0.14},{"l":"TG 18:0/18:1/22:6","g":2,"v":-0.22},{"l":"TG 18:0/18:1/22:6","g":3,"v":1.25},{"l":"TG 18:0/18:1/22:6","g":4,"v":-0.8},
      {"l":"TG 18:0/18:2/18:2","g":1,"v":0.63},{"l":"TG 18:0/18:2/18:2","g":2,"v":-0.3},{"l":"TG 18:0/18:2/18:2","g":3,"v":0.78},{"l":"TG 18:0/18:2/18:2","g":4,"v":-1.1},
      {"l":"TG 18:0/18:3/22:1","g":1,"v":-0.45},{"l":"TG 18:0/18:3/22:1","g":2,"v":-0.65},{"l":"TG 18:0/18:3/22:1","g":3,"v":1.3},{"l":"TG 18:0/18:3/22:1","g":4,"v":-0.14},
      {"l":"TG 18:1/14:0/14:0","g":1,"v":0.68},{"l":"TG 18:1/14:0/14:0","g":2,"v":-0.65},{"l":"TG 18:1/14:0/14:0","g":3,"v":0.68},{"l":"TG 18:1/14:0/14:0","g":4,"v":-0.88},
      {"l":"TG 18:1/18:1/20:4","g":1,"v":-0.06},{"l":"TG 18:1/18:1/20:4","g":2,"v":-0.45},{"l":"TG 18:1/18:1/20:4","g":3,"v":1.28},{"l":"TG 18:1/18:1/20:4","g":4,"v":-0.65},
      {"l":"TG 18:1/18:1/22:3","g":1,"v":0.08},{"l":"TG 18:1/18:1/22:3","g":2,"v":-0.65},{"l":"TG 18:1/18:1/22:3","g":3,"v":1.28},{"l":"TG 18:1/18:1/22:3","g":4,"v":-0.58},
      {"l":"TG 18:1/18:1/22:4","g":1,"v":-0.3},{"l":"TG 18:1/18:1/22:4","g":2,"v":-0.3},{"l":"TG 18:1/18:1/22:4","g":3,"v":1.3},{"l":"TG 18:1/18:1/22:4","g":4,"v":-0.5},
      {"l":"TG 18:1/18:2/18:2","g":1,"v":0.58},{"l":"TG 18:1/18:2/18:2","g":2,"v":0.62},{"l":"TG 18:1/18:2/18:2","g":3,"v":-0.22},{"l":"TG 18:1/18:2/18:2","g":4,"v":-1.15},
      {"l":"TG 18:1/20:2/22:4","g":1,"v":-0.14},{"l":"TG 18:1/20:2/22:4","g":2,"v":-0.35},{"l":"TG 18:1/20:2/22:4","g":3,"v":1.25},{"l":"TG 18:1/20:2/22:4","g":4,"v":-0.65},
      {"l":"TG 18:1p/10:2/10:2","g":1,"v":0.78},{"l":"TG 18:1p/10:2/10:2","g":2,"v":0.63},{"l":"TG 18:1p/10:2/10:2","g":3,"v":-0.58},{"l":"TG 18:1p/10:2/10:2","g":4,"v":-0.88},
      {"l":"TG18:2/18:2/22:6","g":1,"v":0.63},{"l":"TG18:2/18:2/22:6","g":2,"v":0.8},{"l":"TG18:2/18:2/22:6","g":3,"v":-0.6},{"l":"TG18:2/18:2/22:6","g":4,"v":-0.88},
      {"l":"TG 18:2/22:6/22:6","g":1,"v":0.58},{"l":"TG 18:2/22:6/22:6","g":2,"v":0.8},{"l":"TG 18:2/22:6/22:6","g":3,"v":-0.6},{"l":"TG 18:2/22:6/22:6","g":4,"v":-0.88},
      {"l":"TG 18:3/18:2/18:2","g":1,"v":0.68},{"l":"TG 18:3/18:2/18:2","g":2,"v":0.8},{"l":"TG 18:3/18:2/18:2","g":3,"v":-0.6},{"l":"TG 18:3/18:2/18:2","g":4,"v":-0.88},
      {"l":"TG 18:3/18:2/18:3","g":1,"v":0.7},{"l":"TG 18:3/18:2/18:3","g":2,"v":0.65},{"l":"TG 18:3/18:2/18:3","g":3,"v":-0.5},{"l":"TG 18:3/18:2/18:3","g":4,"v":-1.0},
      {"l":"TG 18:3/18:3/20:4","g":1,"v":0.7},{"l":"TG 18:3/18:3/20:4","g":2,"v":0.65},{"l":"TG 18:3/18:3/20:4","g":3,"v":-0.5},{"l":"TG 18:3/18:3/20:4","g":4,"v":-1.0},
      {"l":"TG 18:3/18:3/22:5","g":1,"v":0.7},{"l":"TG 18:3/18:3/22:5","g":2,"v":0.7},{"l":"TG 18:3/18:3/22:5","g":3,"v":-0.6},{"l":"TG 18:3/18:3/22:5","g":4,"v":-0.88},
      {"l":"TG 19:0/18:2/18:2","g":1,"v":0.63},{"l":"TG 19:0/18:2/18:2","g":2,"v":-0.15},{"l":"TG 19:0/18:2/18:2","g":3,"v":0.63},{"l":"TG 19:0/18:2/18:2","g":4,"v":-1.2},
      {"l":"TG 19:1/15:0/15:0","g":1,"v":0.45},{"l":"TG 19:1/15:0/15:0","g":2,"v":-0.17},{"l":"TG 19:1/15:0/15:0","g":3,"v":0.82},{"l":"TG 19:1/15:0/15:0","g":4,"v":-1.2},
      {"l":"TG 19:1/18:1/18:1","g":1,"v":0.48},{"l":"TG 19:1/18:1/18:1","g":2,"v":-0.17},{"l":"TG 19:1/18:1/18:1","g":3,"v":0.78},{"l":"TG 19:1/18:1/18:1","g":4,"v":-1.2},
      {"l":"TG 20:1/17:1/20:1","g":1,"v":0.48},{"l":"TG 20:1/17:1/20:1","g":2,"v":0.78},{"l":"TG 20:1/17:1/20:1","g":3,"v":-0.12},{"l":"TG 20:1/17:1/20:1","g":4,"v":-1.25},
      {"l":"TG 20:1/18:2/20:1","g":1,"v":-0.12},{"l":"TG 20:1/18:2/20:1","g":2,"v":-1.0},{"l":"TG 20:1/18:2/20:1","g":3,"v":1.1},{"l":"TG 20:1/18:2/20:1","g":4,"v":0.02},
      {"l":"TG 20:1/18:3/18:3","g":1,"v":1.0},{"l":"TG 20:1/18:3/18:3","g":2,"v":0.0},{"l":"TG 20:1/18:3/18:3","g":3,"v":-1.15},{"l":"TG 20:1/18:3/18:3","g":4,"v":0.1},
      {"l":"TG 20:3/18:2/18:2","g":1,"v":0.63},{"l":"TG 20:3/18:2/18:2","g":2,"v":0.8},{"l":"TG 20:3/18:2/18:2","g":3,"v":-0.45},{"l":"TG 20:3/18:2/18:2","g":4,"v":-1.0},
      {"l":"TG 26:0/12:4/22:6","g":1,"v":0.48},{"l":"TG 26:0/12:4/22:6","g":2,"v":0.8},{"l":"TG 26:0/12:4/22:6","g":3,"v":-0.22},{"l":"TG 26:0/12:4/22:6","g":4,"v":-1.1},
      {"l":"TG 39:2","g":1,"v":0.42},{"l":"TG 39:2","g":2,"v":0.0},{"l":"TG 39:2","g":3,"v":0.8},{"l":"TG 39:2","g":4,"v":-1.2},
      {"l":"TG 40/16:0/16:0","g":1,"v":-1.2},{"l":"TG 40/16:0/16:0","g":2,"v":0.08},{"l":"TG 40/16:0/16:0","g":3,"v":0.85},{"l":"TG 40/16:0/16:0","g":4,"v":0.18},
      {"l":"TG 40/16:0/16:1","g":1,"v":0.1},{"l":"TG 40/16:0/16:1","g":2,"v":-1.3},{"l":"TG 40/16:0/16:1","g":3,"v":0.63},{"l":"TG 40/16:0/16:1","g":4,"v":0.42},
      {"l":"TG 40/16:0/18:1","g":1,"v":-0.45},{"l":"TG 40/16:0/18:1","g":2,"v":-0.5},{"l":"TG 40/16:0/18:1","g":3,"v":1.3},{"l":"TG 40/16:0/18:1","g":4,"v":-0.3},
      {"l":"TG 40/16:0/18:2","g":1,"v":0.42},{"l":"TG 40/16:0/18:2","g":2,"v":-0.14},{"l":"TG 40/16:0/18:2","g":3,"v":0.82},{"l":"TG 40/16:0/18:2","g":4,"v":-1.2},
      {"l":"TG 41:2","g":1,"v":0.22},{"l":"TG 41:2","g":2,"v":0.06},{"l":"TG 41:2","g":3,"v":0.82},{"l":"TG 41:2","g":4,"v":-1.2},
      {"l":"TG 41:3","g":1,"v":0.22},{"l":"TG 41:3","g":2,"v":-0.35},{"l":"TG 41:3","g":3,"v":1.1},{"l":"TG 41:3","g":4,"v":-0.9},
      {"l":"TG 60/14:0/18:0","g":1,"v":-1.2},{"l":"TG 60/14:0/18:0","g":2,"v":-0.14},{"l":"TG 60/14:0/18:0","g":3,"v":0.63},{"l":"TG 60/14:0/18:0","g":4,"v":0.58},
      {"l":"TG 60/16:0/18:1","g":1,"v":-0.35},{"l":"TG 60/16:0/18:1","g":2,"v":-0.3},{"l":"TG 60/16:0/18:1","g":3,"v":1.3},{"l":"TG 60/16:0/18:1","g":4,"v":-0.58},
      {"l":"TG 60/16:0/18:2","g":1,"v":0.58},{"l":"TG 60/16:0/18:2","g":2,"v":-0.12},{"l":"TG 60/16:0/18:2","g":3,"v":0.65},{"l":"TG 60/16:0/18:2","g":4,"v":-1.25},
      {"l":"TG 60/18:1/18:1","g":1,"v":0.68},{"l":"TG 60/18:1/18:1","g":2,"v":0.1},{"l":"TG 60/18:1/18:1","g":3,"v":0.42},{"l":"TG 60/18:1/18:1","g":4,"v":-1.3},
      {"l":"TG 60/18:2/18:2","g":1,"v":0.98},{"l":"TG 60/18:2/18:2","g":2,"v":0.42},{"l":"TG 60/18:2/18:2","g":3,"v":-0.3},{"l":"TG 60/18:2/18:2","g":4,"v":-1.08},
      {"l":"TG 60/18:3/24:1","g":1,"v":0.85},{"l":"TG 60/18:3/24:1","g":2,"v":0.58},{"l":"TG 60/18:3/24:1","g":3,"v":-0.3},{"l":"TG 60/18:3/24:1","g":4,"v":-1.08},
      {"l":"TG 60:8","g":1,"v":-0.45},{"l":"TG 60:8","g":2,"v":-0.8},{"l":"TG 60:8","g":3,"v":1.2},{"l":"TG 60:8","g":4,"v":0.08},
      {"l":"TG 69:10","g":1,"v":-1.08},{"l":"TG 69:10","g":2,"v":0.02},{"l":"TG 69:10","g":3,"v":1.1},{"l":"TG 69:10","g":4,"v":-0.02}
     ]},
     "mark":{"type":"rect","stroke":"#999999","strokeWidth":0.7},
     "encoding":{
      "x":{"field":"g","type":"ordinal","axis":null},
      "y":{"field":"l","type":"nominal","sort":null,"axis":{"orient":"right","labelFontSize":14,"ticks":false,"domain":false,"labelPadding":4,"title":null,"labelOverlap":false}},
      "color":{"field":"v","type":"quantitative","scale":{"domain":[-1.33,-1,-0.5,0,0.5,0.75,1,1.33],"range":["#08306b","#0b66b0","#2aa0d4","#ebe6e4","#f7a384","#ec5a42","#cc1c2d","#67001f"],"interpolate":"rgb","clamp":true},"legend":null}}}
   ]}
 ]}
]}
]
}
